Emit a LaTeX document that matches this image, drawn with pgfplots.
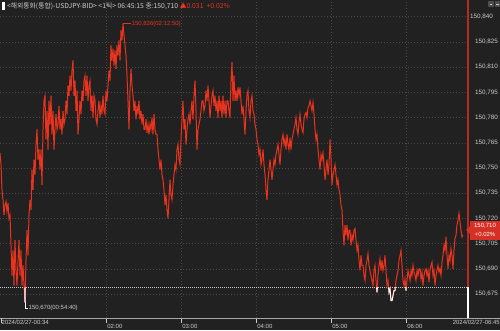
\documentclass[border=0pt]{standalone}
\usepackage{pgfplots}
\pgfplotsset{compat=1.18}
\usepackage{pgfplotstable}
\usepackage{fontspec}
\setmainfont{Liberation Sans}
\newfontfamily\cjk{Noto Sans CJK KR}
\definecolor{bgc}{RGB}{33,33,33}
\definecolor{gridc}{RGB}{72,72,72}
\definecolor{labc}{RGB}{205,205,205}
\definecolor{linered}{RGB}{232,52,30}
\definecolor{boxred}{RGB}{214,48,38}
\definecolor{edgered}{RGB}{185,40,35}
\definecolor{basec}{RGB}{200,200,200}
\pgfplotstableread[row sep=\\]{p\\
150.759\\150.752\\150.737\\150.731\\150.722\\150.728\\150.730\\150.724\\150.729\\150.720\\
150.722\\150.704\\150.686\\150.701\\150.680\\150.707\\150.689\\150.680\\150.695\\150.707\\
150.686\\150.701\\150.680\\150.692\\150.680\\150.670\\150.695\\150.713\\150.698\\150.722\\
150.731\\150.725\\150.749\\150.737\\150.755\\150.746\\150.764\\150.773\\150.755\\150.761\\
150.749\\150.761\\150.740\\150.773\\150.790\\150.793\\150.767\\150.784\\150.761\\150.790\\
150.776\\150.793\\150.770\\150.784\\150.761\\150.773\\150.782\\150.773\\150.776\\150.787\\
150.773\\150.779\\150.770\\150.784\\150.776\\150.779\\150.790\\150.782\\150.799\\150.793\\
150.805\\150.796\\150.808\\150.814\\150.793\\150.802\\150.784\\150.796\\150.770\\150.779\\
150.790\\150.782\\150.796\\150.790\\150.802\\150.805\\150.793\\150.805\\150.790\\150.799\\
150.802\\150.784\\150.793\\150.780\\150.793\\150.790\\150.779\\150.776\\150.784\\150.790\\
150.780\\150.787\\150.782\\150.793\\150.784\\150.782\\150.796\\150.790\\150.799\\150.808\\
150.802\\150.823\\150.814\\150.821\\150.811\\150.820\\150.809\\150.823\\150.817\\150.826\\
150.814\\150.832\\150.826\\150.836\\150.829\\150.823\\150.817\\150.805\\150.790\\150.773\\
150.796\\150.809\\150.799\\150.793\\150.784\\150.790\\150.779\\150.787\\150.782\\150.790\\
150.779\\150.784\\150.776\\150.782\\150.773\\150.773\\150.779\\150.771\\150.776\\150.770\\
150.776\\150.773\\150.780\\150.770\\150.782\\150.773\\150.770\\150.770\\150.761\\150.755\\
150.749\\150.755\\150.746\\150.743\\150.737\\150.728\\150.734\\150.725\\150.720\\150.731\\
150.743\\150.734\\150.731\\150.740\\150.746\\150.752\\150.749\\150.761\\150.764\\150.755\\
150.752\\150.767\\150.779\\150.790\\150.773\\150.779\\150.764\\150.773\\150.779\\150.782\\
150.776\\150.784\\150.790\\150.779\\150.793\\150.802\\150.784\\150.761\\150.773\\150.776\\
150.779\\150.784\\150.790\\150.790\\150.784\\150.787\\150.796\\150.790\\150.799\\150.790\\
150.780\\150.787\\150.793\\150.796\\150.787\\150.793\\150.784\\150.790\\150.780\\150.793\\
150.784\\150.790\\150.780\\150.793\\150.782\\150.790\\150.780\\150.790\\150.790\\150.784\\
150.780\\150.802\\150.813\\150.790\\150.805\\150.790\\150.796\\150.790\\150.798\\150.793\\
150.798\\150.790\\150.782\\150.787\\150.779\\150.770\\150.784\\150.793\\150.796\\150.784\\
150.780\\150.790\\150.793\\150.784\\150.782\\150.776\\150.773\\150.767\\150.764\\150.758\\
150.761\\150.752\\150.755\\150.761\\150.752\\150.746\\150.737\\150.731\\150.743\\150.749\\
150.755\\150.749\\150.743\\150.749\\150.755\\150.752\\150.758\\150.761\\150.764\\150.758\\
150.752\\150.761\\150.767\\150.770\\150.764\\150.767\\150.761\\150.770\\150.764\\150.761\\
150.768\\150.761\\150.767\\150.770\\150.773\\150.776\\150.780\\150.773\\150.770\\150.777\\
150.782\\150.776\\150.773\\150.771\\150.779\\150.782\\150.783\\150.780\\150.786\\150.787\\
150.790\\150.787\\150.784\\150.789\\150.782\\150.773\\150.767\\150.770\\150.761\\150.755\\
150.749\\150.758\\150.755\\150.759\\150.752\\150.743\\150.749\\150.755\\150.746\\150.752\\
150.767\\150.755\\150.740\\150.746\\150.749\\150.752\\150.746\\150.740\\150.743\\150.737\\
150.734\\150.728\\150.725\\150.713\\150.704\\150.716\\150.710\\150.716\\150.707\\150.713\\
150.713\\150.704\\150.710\\150.707\\150.713\\150.714\\150.707\\150.701\\150.704\\150.695\\
150.689\\150.698\\150.692\\150.692\\150.686\\150.683\\150.692\\150.695\\150.699\\150.692\\
150.689\\150.686\\150.683\\150.680\\150.689\\150.692\\150.683\\150.676\\150.686\\150.692\\
150.696\\150.689\\150.695\\150.689\\150.692\\150.698\\150.689\\150.680\\150.683\\150.676\\
150.678\\150.671\\150.671\\150.674\\150.677\\150.677\\150.683\\150.686\\150.689\\150.695\\
150.698\\150.701\\150.692\\150.683\\150.680\\150.684\\150.677\\150.683\\150.689\\150.686\\
150.683\\150.689\\150.686\\150.692\\150.688\\150.686\\150.683\\150.689\\150.686\\150.690\\
150.690\\150.684\\150.688\\150.680\\150.686\\150.689\\150.690\\150.686\\150.689\\150.682\\
150.689\\150.692\\150.694\\150.686\\150.689\\150.680\\150.686\\150.689\\150.692\\150.688\\
150.690\\150.686\\150.694\\150.698\\150.704\\150.701\\150.709\\150.698\\150.690\\150.698\\
150.695\\150.702\\150.698\\150.690\\150.701\\150.708\\150.710\\150.716\\150.719\\150.723\\
150.718\\150.713\\150.709\\150.710\\
}\usd
\begin{document}
\begin{tikzpicture}[x=1pt,y=1pt]
\fill[bgc] (0,0) rectangle (500,330);
\useasboundingbox (0,0) rectangle (500,330);
\begin{axis}[
  at={(0pt,12pt)}, anchor=south west,
  scale only axis, width=467pt, height=318pt,
  xmin=0, xmax=467, ymin=150.6607, ymax=150.8500,
  clip=false,
  axis line style={draw=none},
  scaled y ticks=false,
  xtick={106,181,256,331,406},
  xticklabels={02:00,03:00,04:00,05:00,06:00},
  ytick={150.675,150.690,150.705,150.720,150.735,150.750,150.765,150.780,150.795,150.810,150.825},
  yticklabel pos=right,
  yticklabel style={anchor=west, inner sep=0pt, xshift=3pt, font=\fontsize{6.3}{7}\selectfont, text=labc},
  xticklabel style={anchor=north west, inner sep=0pt, xshift=1.2pt, yshift=-1.5pt, font=\fontsize{6}{7}\selectfont, text=labc},
  /pgf/number format/.cd, fixed, fixed zerofill, precision=3, use comma, 1000 sep={}, assume math mode=true,
  /pgfplots/.cd,
  ytick style={draw=none},
  xtick style={draw=labc, solid, line width=0.5pt},
  tick align=outside, major tick length=5pt,
  grid=major,
  major grid style={draw=gridc, dash pattern=on 1pt off 2pt, line width=0.5pt},
]
\draw[basec, dash pattern=on 1pt off 1pt, line width=0.8pt] (axis cs:0,150.679) -- (axis cs:467,150.679);
\addplot[linered, line width=1pt, mark=none] table[x expr=\coordindex, y=p] {\usd};
\addplot[white, line width=1pt, mark=none] coordinates {(24.8,150.679) (25,150.670) (25.1,150.679)};
\addplot[white, line width=1pt, mark=none] coordinates {(376.6,150.679) (377,150.676) (377.4,150.679)};
\addplot[white, line width=1pt, mark=none] coordinates {(388.6,150.679) (389,150.676) (390,150.678) (391,150.671) (392,150.671) (393,150.674) (394,150.677) (395,150.677) (395.3,150.679)};
\addplot[white, line width=1pt, mark=none] coordinates {(405.7,150.679) (406,150.677) (406.3,150.679)};
% min annotation
\draw[white, line width=0.6pt] (axis cs:25,150.670) -- (axis cs:25,150.6667) -- (axis cs:28,150.6667);
\node[anchor=west, inner sep=0.5pt, text=labc, font=\fontsize{6}{7}\selectfont] at (axis cs:28,150.6667) {150,670(00:54:40)};
% max annotation
\draw[linered, line width=0.6pt] (axis cs:123,150.836) -- (axis cs:131,150.836);
\node[anchor=west, inner sep=0.5pt, text=linered, font=\fontsize{6}{7}\selectfont] at (axis cs:131,150.836) {150,836(02:12:50)};
\end{axis}
% top gridline and label (150,840)
\draw[gridc, dash pattern=on 1pt off 2pt, line width=0.5pt] (0,313.3) -- (467,313.3);
\node[anchor=west, inner sep=0pt, text=labc, font=\fontsize{6.3}{7}\selectfont] at (470,313.3) {150,840};
% right edge current line
\draw[edgered, line width=1.4pt] (468,330) -- (468,43);
\draw[white, line width=1.4pt] (468,43) -- (468,12);
% bottom axis line
\draw[gray!70!white, line width=0.9pt] (0,12) -- (500,12);
\draw[labc, line width=0.5pt] (0.8,12) -- (0.8,7);
\node[anchor=north west, inner sep=0pt, text=labc, font=\fontsize{6}{7}\selectfont] at (1.5,10.5) {2024/02/27-00:34};
\node[anchor=north east, inner sep=0pt, text=labc, font=\fontsize{6}{7}\selectfont] at (500,10.5) {2024/02/27-06:45};
% price box
\fill[boxred] (466,100) -- (470.5,104.5) -- (470.5,95.5) -- cycle;
\fill[boxred] (470,90) rectangle (500,109);
\node[text=white, inner sep=0pt, font=\fontsize{6}{7}\selectfont] at (485,104) {150,710};
\node[text=white, inner sep=0pt, font=\fontsize{6}{7}\selectfont] at (485,95.5) {+0.02\%};
% header
\fill[white] (2,320) rectangle (4.5,328);
\node[anchor=west, inner sep=0pt, text=labc, font=\cjk\fontsize{6.8}{7}\selectfont] at (7,324) {<해외통화(통합)-USDJPY-BID> <1틱> 06:45:15 종:150,710 \textcolor{linered}{▲0.031\ \ +0.02\%}};
% small icons top right
\fill[gray!60!black] (488,322.5) rectangle (493.5,328.5);
\fill[gray!60!black] (494.5,322.5) rectangle (500,328.5);
\draw[labc, line width=0.4pt] (489.5,325.5) -- (492,325.5);
\draw[labc, line width=0.4pt] (496,325.5) -- (498.5,325.5);
\end{tikzpicture}
\end{document}
